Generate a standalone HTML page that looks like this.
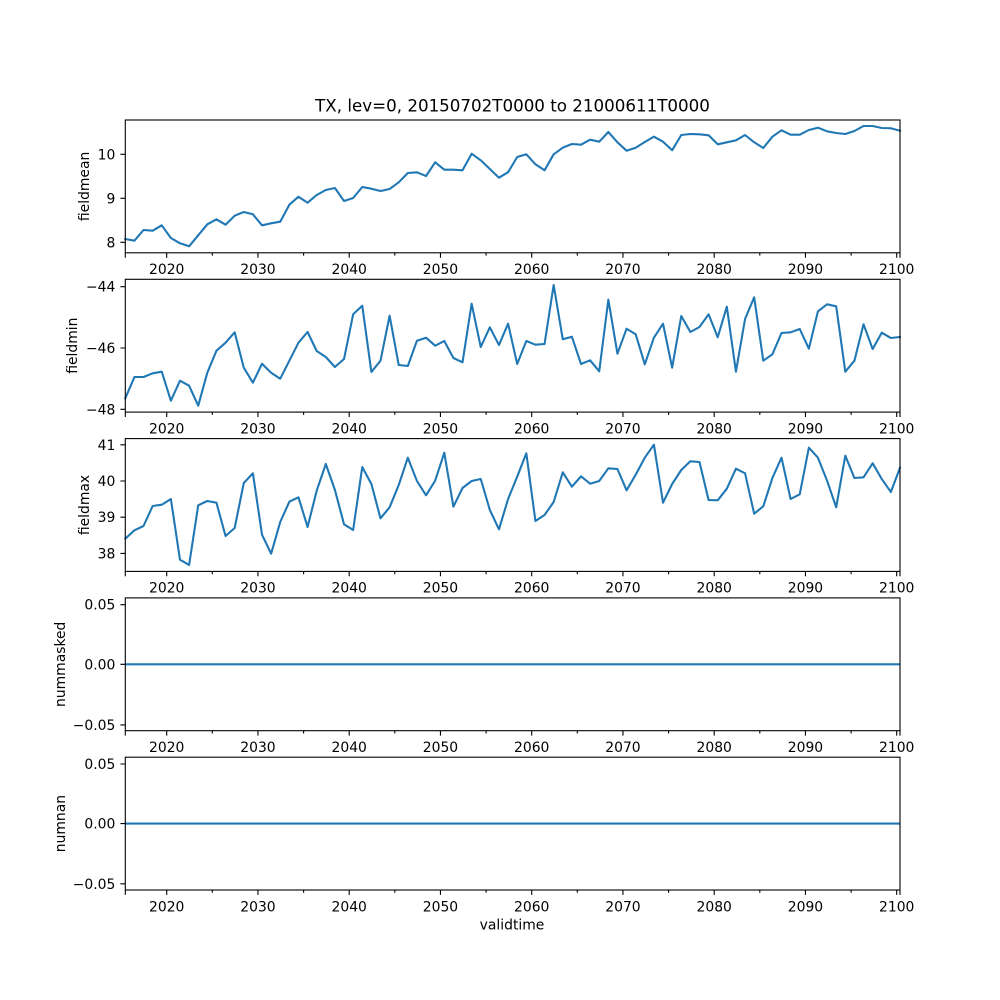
<!DOCTYPE html>
<html><head><meta charset="utf-8"><style>
html,body{margin:0;padding:0;background:#fff;}
svg{display:block;}
text{font-family:"DejaVu Sans","Liberation Sans",sans-serif;fill:#000;}
.tk{font-size:13.9px;}
.line{fill:none;stroke:#1f77b4;stroke-width:2.08;stroke-linejoin:round;stroke-linecap:square;}
.sp{fill:none;stroke:#000;stroke-width:1.1;}
.tm{stroke:#000;stroke-width:1.1;fill:none;}
</style></head><body>
<svg width="1000" height="1000" viewBox="0 0 1000 1000" xmlns="http://www.w3.org/2000/svg">
<rect width="1000" height="1000" fill="#fff"/>
<defs>
<path id="xt" class="tm" d="M125.3 0v4.9M166.7 0v4.9M257.95 0v4.9M349.2 0v4.9M440.45 0v4.9M531.7 0v4.9M622.95 0v4.9M714.2 0v4.9M805.45 0v4.9M896.7 0v4.9M900 0v4.9M212.3 0v2.8M303.6 0v2.8M394.8 0v2.8M486.1 0v2.8M577.3 0v2.8M668.6 0v2.8M759.8 0v2.8M851.1 0v2.8"/>
</defs>

<text x="512.5" y="111.7" text-anchor="middle" style="font-size:16.7px">TX, lev=0, 20150702T0000 to 21000611T0000</text>

<!-- Panel 1 -->
<polyline class="line" vector-effect="non-scaling-stroke" transform="translate(125.3,0) scale(9.114,1)" points="0,239 1,240.7 2,230 3,230.7 4,225.3 5,238 6,243.3 7,246.3 8,235.3 9,224.3 10,219.3 11,224.7 12,215.7 13,212 14,214.3 15,225.3 16,223.3 17,221.7 18,204.7 19,196.7 20,202.7 21,195 22,190 23,188 24,201 25,198 26,187 27,188.7 28,191 29,189 30,182.3 31,173 32,172.3 33,176 34,162.3 35,169.7 36,169.7 37,170.3 38,153.7 39,160.3 40,169 41,177.7 42,172.2 43,157 44,154.3 45,164.3 46,170.3 47,154.3 48,147.7 49,144 50,144.7 51,139.7 52,141.7 53,132 54,142.3 55,150.7 56,147.7 57,142 58,136.7 59,141.7 60,150.3 61,135 62,134 63,134.3 64,135.3 65,144.3 66,142.3 67,140.3 68,135 69,142.3 70,148 71,136.7 72,130.3 73,134.7 74,134.7 75,130 76,127.7 77,131.3 78,133 79,134 80,131 81,126 82,126 83,128 84,128.3 85,130.7"/>
<rect class="sp" x="125.3" y="120" width="774.7" height="132.8"/>
<path class="tm" d="M120.4 242.3h4.9M120.4 198.3h4.9M120.4 154.3h4.9"/>
<text class="tk" x="115.3" y="247.3" text-anchor="end">8</text>
<text class="tk" x="115.3" y="203.3" text-anchor="end">9</text>
<text class="tk" x="115.3" y="159.3" text-anchor="end">10</text>
<use href="#xt" y="252.8"/>
<text class="tk" transform="translate(89,186.4) rotate(-90)" text-anchor="middle">fieldmean</text>
<g class="tk" text-anchor="middle">
<text x="166.7" y="274.1">2020</text><text x="257.95" y="274.1">2030</text><text x="349.2" y="274.1">2040</text><text x="440.45" y="274.1">2050</text><text x="531.7" y="274.1">2060</text><text x="622.95" y="274.1">2070</text><text x="714.2" y="274.1">2080</text><text x="805.45" y="274.1">2090</text><text x="896.7" y="274.1">2100</text>
</g>

<!-- Panel 2 -->
<polyline class="line" vector-effect="non-scaling-stroke" transform="translate(125.3,0) scale(9.114,1)" points="0,398.3 1,377 2,377 3,373.3 4,371.7 5,400.7 6,380.7 7,385.7 8,405.7 9,372.7 10,350.7 11,342.7 12,332.3 13,367.7 14,382.7 15,363.7 16,372.7 17,378.7 18,360.7 19,342.7 20,332 21,351 22,357 23,367 24,359 25,314.3 26,305.7 27,372 28,360.7 29,315.7 30,365 31,366 32,340.7 33,337.7 34,345.7 35,341 36,358 37,362.3 38,303.7 39,347 40,327.3 41,345 42,323.7 43,364 44,341 45,344.7 46,344 47,285 48,339.3 49,336.7 50,364 51,360.3 52,371.3 53,299.7 54,353.7 55,328.7 56,334.3 57,364.3 58,337.7 59,323.7 60,367.7 61,316 62,332 63,327 64,314.3 65,337.3 66,306.7 67,371.7 68,319 69,297.3 70,360.7 71,354.3 72,333 73,332.3 74,329 75,348.7 76,311.3 77,304.3 78,306.3 79,371.7 80,360.7 81,324.3 82,349 83,332.7 84,338 85,337"/>
<rect class="sp" x="125.3" y="279.3" width="774.7" height="132.8"/>
<path class="tm" d="M120.4 286.7h4.9M120.4 348h4.9M120.4 409.3h4.9"/>
<text class="tk" x="115.3" y="291.7" text-anchor="end">−44</text>
<text class="tk" x="115.3" y="353" text-anchor="end">−46</text>
<text class="tk" x="115.3" y="414.3" text-anchor="end">−48</text>
<use href="#xt" y="412.1"/>
<text class="tk" transform="translate(77,345.7) rotate(-90)" text-anchor="middle">fieldmin</text>
<g class="tk" text-anchor="middle">
<text x="166.7" y="433.4">2020</text><text x="257.95" y="433.4">2030</text><text x="349.2" y="433.4">2040</text><text x="440.45" y="433.4">2050</text><text x="531.7" y="433.4">2060</text><text x="622.95" y="433.4">2070</text><text x="714.2" y="433.4">2080</text><text x="805.45" y="433.4">2090</text><text x="896.7" y="433.4">2100</text>
</g>

<!-- Panel 3 -->
<polyline class="line" vector-effect="non-scaling-stroke" transform="translate(125.3,0) scale(9.114,1)" points="0,538.7 1,530.3 2,526 3,506 4,504.7 5,499 6,559.7 7,565 8,505.3 9,501 10,502.7 11,536 12,528 13,483 14,473.3 15,534.7 16,553.7 17,522 18,501.7 19,497.3 20,527 21,490.7 22,464 23,490 24,524.3 25,530 26,467 27,484 28,518.3 29,507.3 30,485 31,457.7 32,481 33,495.3 34,480.7 35,452.7 36,506.7 37,488 38,481 39,479 40,510 41,529.3 42,499 43,476.7 44,453.3 45,521 46,515 47,502 48,472.3 49,486.7 50,476.3 51,483.7 52,481 53,468.3 54,469 55,490.3 56,474.7 57,457.7 58,444.7 59,502.7 60,484 61,470 62,461.3 63,462 64,500 65,500.3 66,488.7 67,468.7 68,473.3 69,513.7 70,506.3 71,478 72,457.7 73,499 74,494.3 75,447.7 76,457.7 77,480.7 78,507.3 79,455.7 80,478 81,477.3 82,463.3 83,479 84,492 85,467.7"/>
<rect class="sp" x="125.3" y="438.6" width="774.7" height="132.8"/>
<path class="tm" d="M120.4 444.8h4.9M120.4 481h4.9M120.4 517.2h4.9M120.4 553.4h4.9"/>
<text class="tk" x="115.3" y="449.8" text-anchor="end">41</text>
<text class="tk" x="115.3" y="486" text-anchor="end">40</text>
<text class="tk" x="115.3" y="522.2" text-anchor="end">39</text>
<text class="tk" x="115.3" y="558.4" text-anchor="end">38</text>
<use href="#xt" y="571.4"/>
<text class="tk" transform="translate(89,505) rotate(-90)" text-anchor="middle">fieldmax</text>
<g class="tk" text-anchor="middle">
<text x="166.7" y="592.7">2020</text><text x="257.95" y="592.7">2030</text><text x="349.2" y="592.7">2040</text><text x="440.45" y="592.7">2050</text><text x="531.7" y="592.7">2060</text><text x="622.95" y="592.7">2070</text><text x="714.2" y="592.7">2080</text><text x="805.45" y="592.7">2090</text><text x="896.7" y="592.7">2100</text>
</g>

<!-- Panel 4 -->
<line class="line" x1="125.3" y1="664.3" x2="900" y2="664.3" style="stroke-linecap:butt"/>
<rect class="sp" x="125.3" y="597.9" width="774.7" height="132.8"/>
<path class="tm" d="M120.4 604.7h4.9M120.4 664.3h4.9M120.4 724.9h4.9"/>
<text class="tk" x="115.3" y="609.7" text-anchor="end">0.05</text>
<text class="tk" x="115.3" y="669.3" text-anchor="end">0.00</text>
<text class="tk" x="115.3" y="729.9" text-anchor="end">−0.05</text>
<use href="#xt" y="730.7"/>
<text class="tk" transform="translate(65,664.3) rotate(-90)" text-anchor="middle">nummasked</text>
<g class="tk" text-anchor="middle">
<text x="166.7" y="752">2020</text><text x="257.95" y="752">2030</text><text x="349.2" y="752">2040</text><text x="440.45" y="752">2050</text><text x="531.7" y="752">2060</text><text x="622.95" y="752">2070</text><text x="714.2" y="752">2080</text><text x="805.45" y="752">2090</text><text x="896.7" y="752">2100</text>
</g>

<!-- Panel 5 -->
<line class="line" x1="125.3" y1="823.6" x2="900" y2="823.6" style="stroke-linecap:butt"/>
<rect class="sp" x="125.3" y="757.2" width="774.7" height="132.8"/>
<path class="tm" d="M120.4 764h4.9M120.4 823.6h4.9M120.4 883.8h4.9"/>
<text class="tk" x="115.3" y="769" text-anchor="end">0.05</text>
<text class="tk" x="115.3" y="828.6" text-anchor="end">0.00</text>
<text class="tk" x="115.3" y="888.8" text-anchor="end">−0.05</text>
<use href="#xt" y="890"/>
<text class="tk" transform="translate(65,823.6) rotate(-90)" text-anchor="middle">numnan</text>
<g class="tk" text-anchor="middle">
<text x="166.7" y="911.3">2020</text><text x="257.95" y="911.3">2030</text><text x="349.2" y="911.3">2040</text><text x="440.45" y="911.3">2050</text><text x="531.7" y="911.3">2060</text><text x="622.95" y="911.3">2070</text><text x="714.2" y="911.3">2080</text><text x="805.45" y="911.3">2090</text><text x="896.7" y="911.3">2100</text>
</g>
<text class="tk" x="512" y="929.5" text-anchor="middle">validtime</text>
</svg>
</body></html>
